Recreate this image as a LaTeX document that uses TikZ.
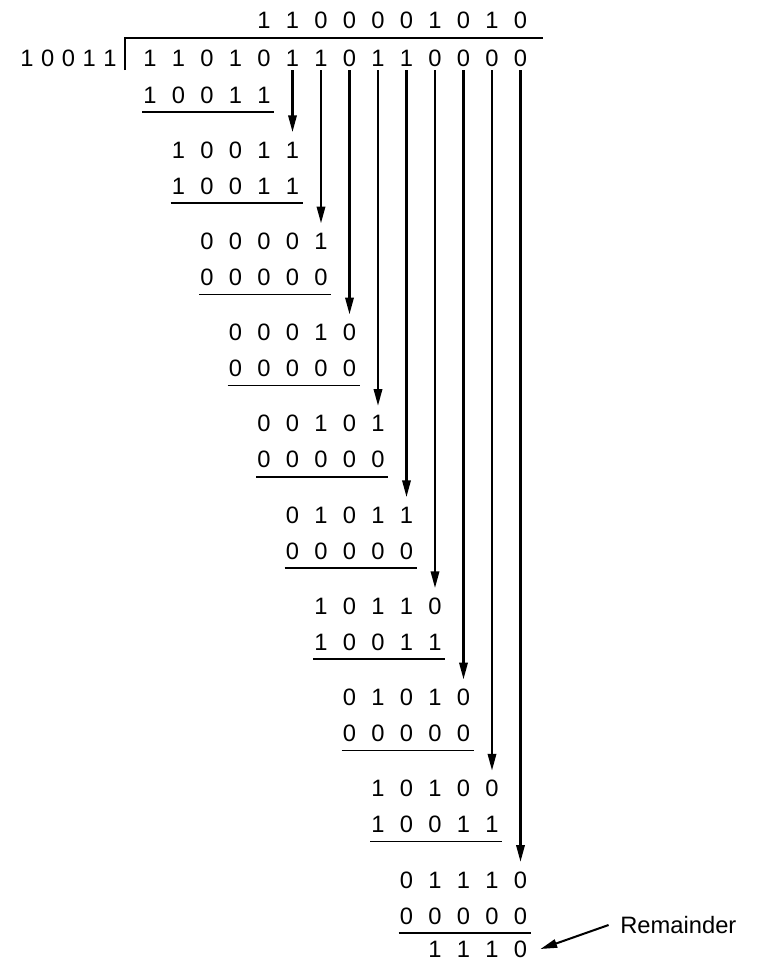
\documentclass[tikz,border=0pt]{standalone}
\usepackage{fontspec}
\setmainfont{Liberation Sans}
\usetikzlibrary{arrows.meta}

\tikzset{
  digit/.style={inner sep=0pt,font=\fontsize{13.5}{16}\selectfont},
  rule/.style={line width=0.9pt},
  arr/.style={line width=1.15pt,-{Triangle[length=9.5pt,width=4.8pt]}}
}
% one row of digits, columns counted from the left of the dividend
\newcommand{\digitrow}[4]{%
  \foreach \d [count=\i from #2] in {#4}
    \node[digit] (#1-\i) at ({150+28.5*\i},#3) {\d};}
% rule under a subtrahend row
\newcommand{\subline}[3]{%
  \draw[rule] ([shift={(-0.5pt,-4.8pt)}]#1-#2.south west)
    -- ([shift={(2pt,-4.8pt)}]#1-#3.south east);}
% bring a dividend digit down to the next row
\newcommand{\bringdown}[2]{%
  \draw[arr] ([yshift=-2pt]dv-#2.south) -- ([yshift=5.4pt]#1-#2.north);}

\begin{document}
\begin{tikzpicture}[x=0.02cm,y=-0.02cm]
  \useasboundingbox (0,0) rectangle (762,961);

  % quotient, divisor and dividend
  \digitrow{q}{4}{20}{1,1,0,0,0,0,1,0,1,0}
  \digitrow{dv}{0}{58}{1,1,0,1,0,1,1,0,1,1,0,0,0,0}
  \foreach \d [count=\i from 0] in {1,0,0,1,1}
    \node[digit] (ds-\i) at ({27+20.75*\i},58) {\d};
  \draw[rule] (125,70) -- (125,38) -- (543,38);

  % step 0
  \digitrow{s0}{0}{95}{1,0,0,1,1}
  \subline{s0}{0}{4}

  % steps 1--9
  \digitrow{m1}{1}{150}{1,0,0,1,1}
  \digitrow{s1}{1}{186}{1,0,0,1,1}
  \digitrow{m2}{2}{241.25}{0,0,0,0,1}
  \digitrow{s2}{2}{277.25}{0,0,0,0,0}
  \digitrow{m3}{3}{332.5}{0,0,0,1,0}
  \digitrow{s3}{3}{368.5}{0,0,0,0,0}
  \digitrow{m4}{4}{423.75}{0,0,1,0,1}
  \digitrow{s4}{4}{459.75}{0,0,0,0,0}
  \digitrow{m5}{5}{515}{0,1,0,1,1}
  \digitrow{s5}{5}{551}{0,0,0,0,0}
  \digitrow{m6}{6}{606.25}{1,0,1,1,0}
  \digitrow{s6}{6}{642.25}{1,0,0,1,1}
  \digitrow{m7}{7}{697.5}{0,1,0,1,0}
  \digitrow{s7}{7}{733.5}{0,0,0,0,0}
  \digitrow{m8}{8}{788.75}{1,0,1,0,0}
  \digitrow{s8}{8}{824.75}{1,0,0,1,1}
  \digitrow{m9}{9}{880}{0,1,1,1,0}
  \digitrow{s9}{9}{916}{0,0,0,0,0}

  \foreach \k in {1,...,9}{
    \pgfmathtruncatemacro{\last}{\k+4}
    \subline{s\k}{\k}{\last}
    \bringdown{m\k}{\last}
  }

  % remainder
  \digitrow{r}{10}{949}{1,1,1,0}
  \node[digit,anchor=west] (remtext) at (620,925) {Remainder};
  \draw[arr] ([xshift=-6.5pt]remtext.west) -- ([xshift=7.4pt]r-13.east);
\end{tikzpicture}
\end{document}
